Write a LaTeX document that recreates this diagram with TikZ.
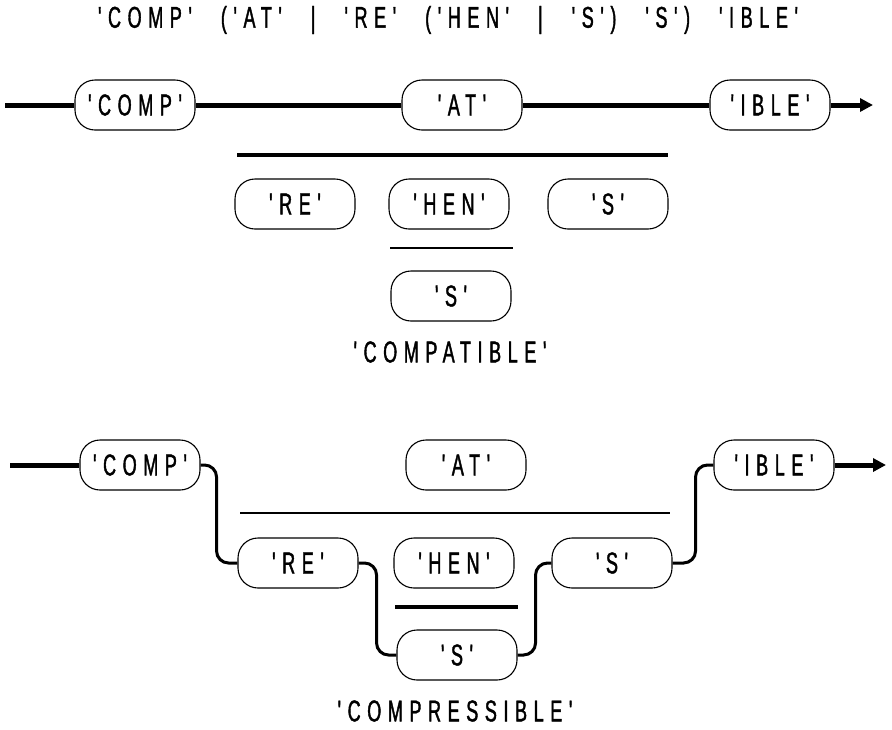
\documentclass[tikz,border=0pt]{standalone}
\usepackage{fontspec}
\newfontfamily\rrfont[FakeStretch=0.6,FakeBold=1.3,LetterSpace=22,WordSpace=2.5]{Liberation Sans}
\usetikzlibrary{arrows.meta}
\tikzset{
  term/.style={draw, line width=1.1pt, rounded corners=20pt, minimum width=120pt, minimum height=50pt, inner sep=0pt, fill=white, font=\rrfont\fontsize{30}{34}\selectfont},
  lbl/.style={inner sep=0pt, font=\rrfont\fontsize{30}{34}\selectfont},
  mainline/.style={line width=5pt},
  flow/.style={line width=3pt, rounded corners=12pt},
  bar/.style={line width=4pt},
  thinbar/.style={line width=2pt},
  tip/.style={-{Triangle[length=13pt,width=13pt]}}
}
\begin{document}
\begin{tikzpicture}[x=1pt,y=-1pt]
\useasboundingbox (0,0) rectangle (892,729);
\node[lbl] (title) at (448,20) {'COMP' ('AT' | 'RE' ('HEN' | 'S') 'S') 'IBLE'};
% top diagram
\coordinate (s1) at (5,105);
\coordinate (e1) at (873,105);
\node[term] (comp1) at (135,105) {'COMP'};
\node[term] (at1) at (462,105) {'AT'};
\node[term] (ible1) at (770,105) {'IBLE'};
\draw[mainline] (s1) -- (comp1) -- (at1) -- (ible1);
\draw[mainline,tip] (ible1) -- (e1);
\draw[bar] (237,155) -- (668,155);
\node[term] (re1) at (295,204) {'RE'};
\node[term] (hen1) at (449,204) {'HEN'};
\node[term] (sa1) at (608,204) {'S'};
\draw[thinbar] (390,248) -- (513,248);
\node[term] (sb1) at (451,296) {'S'};
\node[lbl] (w1) at (450,352) {'COMPATIBLE'};
% bottom diagram
\coordinate (s2) at (10,465);
\coordinate (e2) at (886,465);
\node[term] (comp2) at (140,465) {'COMP'};
\node[term] (at2) at (466,465) {'AT'};
\node[term] (ible2) at (774,465) {'IBLE'};
\draw[thinbar] (240,513) -- (670,513);
\node[term] (re2) at (298,563) {'RE'};
\node[term] (hen2) at (454,563) {'HEN'};
\node[term] (sa2) at (612,563) {'S'};
\draw[bar] (395,607) -- (518,607);
\node[term] (sb2) at (457,655) {'S'};
\node[lbl] (w2) at (455,711) {'COMPRESSIBLE'};
\draw[mainline] (s2) -- (comp2);
\draw[mainline,tip] (ible2) -- (e2);
\draw[flow] (comp2.east) -- ([xshift=16pt]comp2.east) |- (re2.west);
\draw[flow] (re2.east) -- ([xshift=18pt]re2.east) |- (sb2.west);
\draw[flow] (sb2.east) -- ([xshift=18pt]sb2.east) |- (sa2.west);
\draw[flow] (sa2.east) -- ([xshift=23pt]sa2.east) |- (ible2.west);
\end{tikzpicture}
\end{document}
